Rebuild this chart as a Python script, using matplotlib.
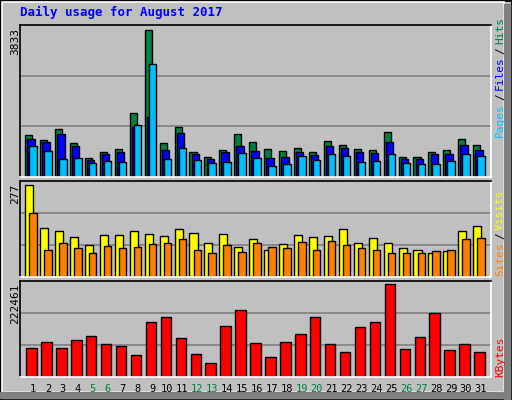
import numpy as np
import matplotlib.pyplot as plt
from matplotlib.patches import Rectangle

days = list(range(1, 32))
weekend_days = [5, 6, 12, 13, 19, 20, 26, 27]

hits = [1095, 965, 1251, 886, 495, 652, 730, 1669, 3833, 886, 1304, 652, 521, 704, 1121, 912,
        730, 678, 756, 652, 939, 834, 730, 704, 1173, 521, 521, 652, 704, 991, 834]
files = [991, 912, 1121, 808, 443, 600, 652, 1304, 1564, 704, 1147, 600, 469, 652, 808, 678,
         495, 521, 652, 574, 808, 756, 652, 626, 912, 469, 469, 600, 600, 834, 704]
pages = [808, 678, 469, 495, 365, 417, 391, 1356, 2946, 469, 756, 443, 365, 391, 626, 495,
         287, 339, 548, 443, 600, 548, 391, 417, 600, 365, 339, 339, 417, 600, 548]
visits = [277, 147, 138, 120, 96, 126, 126, 138, 129, 123, 144, 132, 102, 129, 90, 114,
          81, 99, 126, 120, 123, 144, 102, 117, 102, 87, 81, 72, 78, 138, 153]
sites = [192, 81, 102, 87, 72, 93, 87, 90, 99, 102, 114, 81, 72, 96, 75, 102,
         90, 87, 105, 81, 108, 96, 87, 81, 72, 72, 72, 78, 81, 114, 117]
kbytes = [69316, 83824, 69316, 88660, 98332, 78988, 74152, 52390, 132184, 144274, 93496,
          54808, 33046, 122512, 161200, 81406, 47554, 83824, 103168, 144274, 78988, 59644,
          120094, 132184, 222461, 66898, 95914, 153946, 64480, 78988, 59644]

W, H = 512, 400
GRAY = "#C0C0C0"
C_HITS, C_FILES, C_PAGES = "#008040", "#0000FF", "#00C0FF"
C_VISITS, C_SITES, C_KB = "#FFFF00", "#FF8000", "#FF0000"
MONO = "DejaVu Sans Mono"

fig = plt.figure(figsize=(W / 100, H / 100), dpi=100, facecolor=GRAY)

# outer 3D frame
fig.patches.append(Rectangle((0, 0), 1, 1, transform=fig.transFigure, fill=False,
                             edgecolor="black", lw=2))
fig.patches.append(Rectangle((2 / W, 8 / H), 1 - 10 / W, 1 - 10 / H, transform=fig.transFigure,
                             fill=False, edgecolor="white", lw=1.2))
fig.patches.append(Rectangle((W - 8, 0), 6, H - 4, transform=None, color="#808080"))
fig.patches.append(Rectangle((0, 2), W - 4, 6, transform=None, color="#808080"))

x = np.array(days)


def panel(top, bottom):
    left, right = 20, 490.7
    ax = fig.add_axes([left / W, 1 - bottom / H, (right - left) / W, (bottom - top) / H])
    ax.set_facecolor(GRAY)
    ax.set_xlim(0.13, 31.65)
    for s in ax.spines.values():
        s.set_color("black")
        s.set_linewidth(1.2)
    ax.spines["bottom"].set_color("white")
    ax.spines["right"].set_color("white")
    ax.set_xticks([])
    ax.set_yticks([])
    return ax


def grid(ax, ymax):
    for f in (1 / 3, 2 / 3):
        ax.axhline(ymax * f, color="#808080", lw=1.2, zorder=0)


bar_kw = dict(align="edge", edgecolor="black", linewidth=1.0, zorder=2)

ax1 = panel(25, 177)
ym = 3833 * 152 / 147
ax1.set_ylim(0, ym)
grid(ax1, ym)
ax1.bar(x - 0.52, hits, 0.47, color=C_HITS, **bar_kw)
ax1.bar(x - 0.38, files, 0.49, color=C_FILES, **bar_kw)
ax1.bar(x - 0.25, pages, 0.50, color=C_PAGES, **bar_kw)

ax2 = panel(180.7, 276.7)
ym = 277 * 96 / 92
ax2.set_ylim(0, ym)
grid(ax2, ym)
ax2.bar(x - 0.52, visits, 0.54, color=C_VISITS, **bar_kw)
ax2.bar(x - 0.25, sites, 0.50, color=C_SITES, **bar_kw)

ax3 = panel(280.7, 376.7)
ym = 222461 * 286 / 276
ax3.set_ylim(0, ym)
grid(ax3, ym)
ax3.bar(x - 0.45, kbytes, 0.70, color=C_KB, **bar_kw)

fig.text(20 / W, 1 - 12 / H, "Daily usage for August 2017", color="#0000FF",
         family=MONO, fontweight="bold", fontsize=9, va="center")

fig.text(15 / W, 1 - 28 / H, "3833", rotation=90, family=MONO, fontsize=8, ha="center", va="top")
fig.text(15 / W, 1 - 184 / H, "277", rotation=90, family=MONO, fontsize=8, ha="center", va="top")
fig.text(15 / W, 1 - 283 / H, "222461", rotation=90, family=MONO, fontsize=8, ha="center", va="top")

renderer = fig.canvas.get_renderer()


# right side legends, read bottom to top
def side_label(parts, ybottom):
    y = ybottom
    for txt, col in parts:
        t = fig.text(500 / W, 1 - y / H, txt, rotation=90, color=col, family=MONO,
                     fontsize=8, ha="center", va="bottom", rotation_mode="default")
        ext = t.get_window_extent(renderer)
        y -= ext.height + 3


side_label([("Pages", C_PAGES), ("/", "black"), ("Files", C_FILES), ("/", "black"),
            ("Hits", C_HITS)], 137)
side_label([("Sites", C_SITES), ("/", "black"), ("Visits", C_VISITS)], 276)
side_label([("KBytes", C_KB)], 377)

for d in days:
    col = C_HITS if d in weekend_days else "black"
    fig.text((20 + (d - 0.13) * (470.7 / 31.52)) / W, 1 - 389 / H, str(d), color=col,
             family=MONO, fontsize=7.5, ha="center", va="center")

fig.savefig("out.png", dpi=100, facecolor=GRAY)
